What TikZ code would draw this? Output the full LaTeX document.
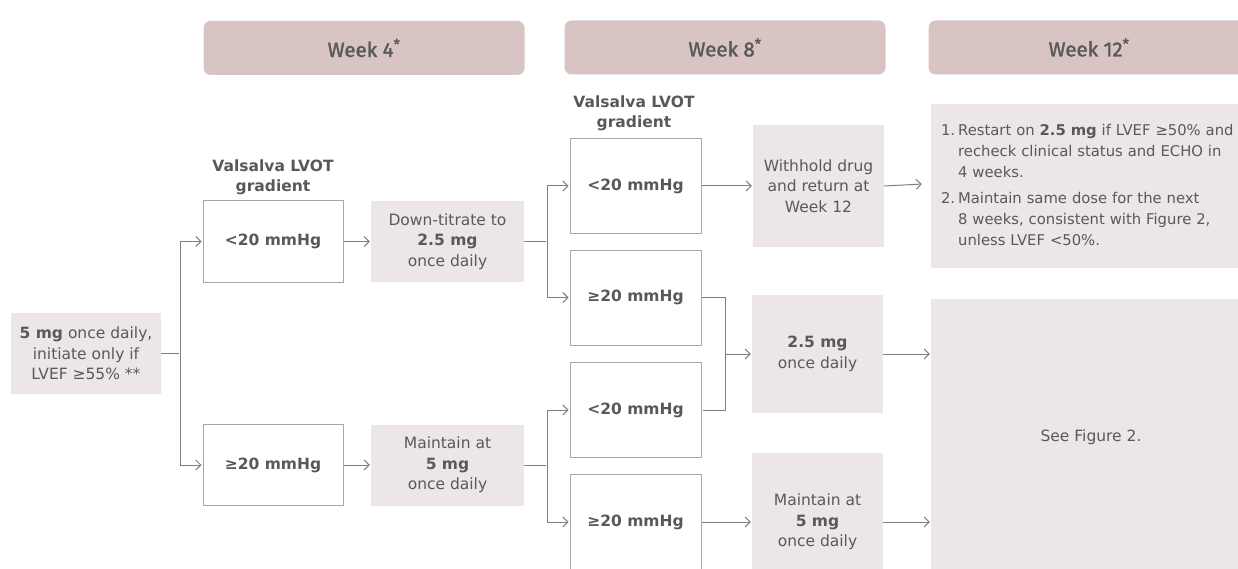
\documentclass[tikz,border=0pt]{standalone}
\usepackage{fontspec}
\setmainfont{DejaVu Sans}
\newfontfamily\hdrfont[BoldFont={Fira Sans},BoldFeatures={FakeBold=1.6}]{Fira Sans}
\usepackage{tikz}
\usetikzlibrary{arrows.meta}

\definecolor{hdrpink}{RGB}{217,196,196}
\definecolor{boxpink}{RGB}{236,230,230}
\definecolor{rulegray}{RGB}{166,166,166}
\definecolor{linegray}{RGB}{127,127,127}
\definecolor{txtgray}{RGB}{89,89,89}

\begin{document}
\begin{tikzpicture}[x=1pt,y=-1pt,>={Straight Barb[length=5pt,width=10pt]},
  every node/.style={text=txtgray,font=\fontsize{15.5}{20.5}\selectfont,align=center,inner sep=0pt},
  week/.style={fill=hdrpink,rounded corners=7pt,minimum width=321pt,minimum height=54pt,font=\hdrfont\bfseries\fontsize{20.5}{22}\selectfont},
  gradlbl/.style={font=\bfseries\fontsize{15.5}{20}\selectfont},
  grad/.style={draw=rulegray,fill=white,line width=1pt,minimum width=131pt,minimum height=95pt},
  dose/.style={fill=boxpink,minimum width=131pt},
  conn/.style={draw=linegray,line width=1pt,shorten >=1pt}]

\useasboundingbox (0,0) rectangle (1238,569);

% headers
\node[week] (w4) at (364,48) {Week 4\textsuperscript{*}};
\node[week] (w8) at (725,47.5) {Week 8\textsuperscript{*}};
\node[week] (w12) at (1089,47.5) {Week 12\textsuperscript{*}};

% start dose
\node[dose,minimum width=150pt,minimum height=81pt] (start) at (86,353.5) {\textbf{5 mg} once daily,\\initiate only if\\LVEF ≥55\% **};

% week 4
\node[gradlbl] (lbl4) at (273,177) {Valsalva LVOT\\gradient};
\node[grad,minimum width=140pt,minimum height=81pt] (lo4) at (273,241.5) {\textbf{<20 mmHg}};
\node[grad,minimum width=140pt,minimum height=81pt] (hi4) at (273,465) {\textbf{≥20 mmHg}};
\node[dose,minimum width=153pt,minimum height=81pt] (down4) at (447.5,241.5) {Down-titrate to\\\textbf{2.5 mg}\\once daily};
\node[dose,minimum width=153pt,minimum height=81pt] (keep4) at (447.5,465) {Maintain at\\\textbf{5 mg}\\once daily};

% week 8
\node[gradlbl] (lbl8) at (634,113.5) {Valsalva LVOT\\gradient};
\node[grad] (lo8a) at (635.5,186) {\textbf{<20 mmHg}};
\node[grad] (hi8a) at (635.5,297.5) {\textbf{≥20 mmHg}};
\node[grad] (lo8b) at (635.5,410) {\textbf{<20 mmHg}};
\node[grad] (hi8b) at (635.5,522) {\textbf{≥20 mmHg}};
\node[dose,minimum height=121pt] (stop8) at (818.5,186) {Withhold drug\\and return at\\Week 12};
\node[dose,minimum height=118pt] (low8) at (817.5,354) {\textbf{2.5 mg}\\once daily};
\node[dose,minimum height=138pt] (keep8) at (817.5,522) {Maintain at\\\textbf{5 mg}\\once daily};

% week 12
\node[dose,minimum height=164pt,text width=300pt,align=left,inner xsep=10pt,font=\fontsize{14.8}{21}\selectfont] (plan12) at (1091,186)
  {\begin{tabular}{@{}l@{\hspace{3pt}}l@{}}
   1. & Restart on \textbf{2.5 mg} if LVEF ≥50\% and\\
      & recheck clinical status and ECHO in\\
      & 4 weeks.\\[5pt]
   2. & Maintain same dose for the next\\
      & 8 weeks, consistent with Figure 2,\\
      & unless LVEF <50\%.
   \end{tabular}};
\node[dose,minimum width=320pt,minimum height=276pt] (fig12) at (1091,437) {See Figure 2.};

% connectors
\coordinate (j0) at (180,353.5);
\coordinate (j1) at (547,241.5);
\coordinate (j2) at (547,465);
\coordinate (j3) at (725,354);

\draw[conn] (start.east) -- (j0);
\draw[conn,->] (j0) |- (lo4.west);
\draw[conn,->] (j0) |- (hi4.west);
\draw[conn,->] (lo4.east) -- (down4.west);
\draw[conn,->] (hi4.east) -- (keep4.west);

\draw[conn] (down4.east) -- (j1);
\draw[conn,->] (j1) |- (lo8a.west);
\draw[conn,->] (j1) |- (hi8a.west);
\draw[conn] (keep4.east) -- (j2);
\draw[conn,->] (j2) |- (lo8b.west);
\draw[conn,->] (j2) |- (hi8b.west);

\draw[conn,->] (lo8a.east) -- (stop8.west);
\draw[conn] (hi8a.east) -| (j3) |- (lo8b.east);
\draw[conn,->] (j3) -- (low8.west);
\draw[conn,->] (hi8b.east) -- (keep8.west);

\draw[conn,->] (stop8.east) -- ([xshift=-8pt,yshift=2pt]plan12.west);
\draw[conn,->] (low8.east) -- (low8.east -| fig12.west);
\draw[conn,->] (keep8.east) -- (keep8.east -| fig12.west);
\end{tikzpicture}
\end{document}
